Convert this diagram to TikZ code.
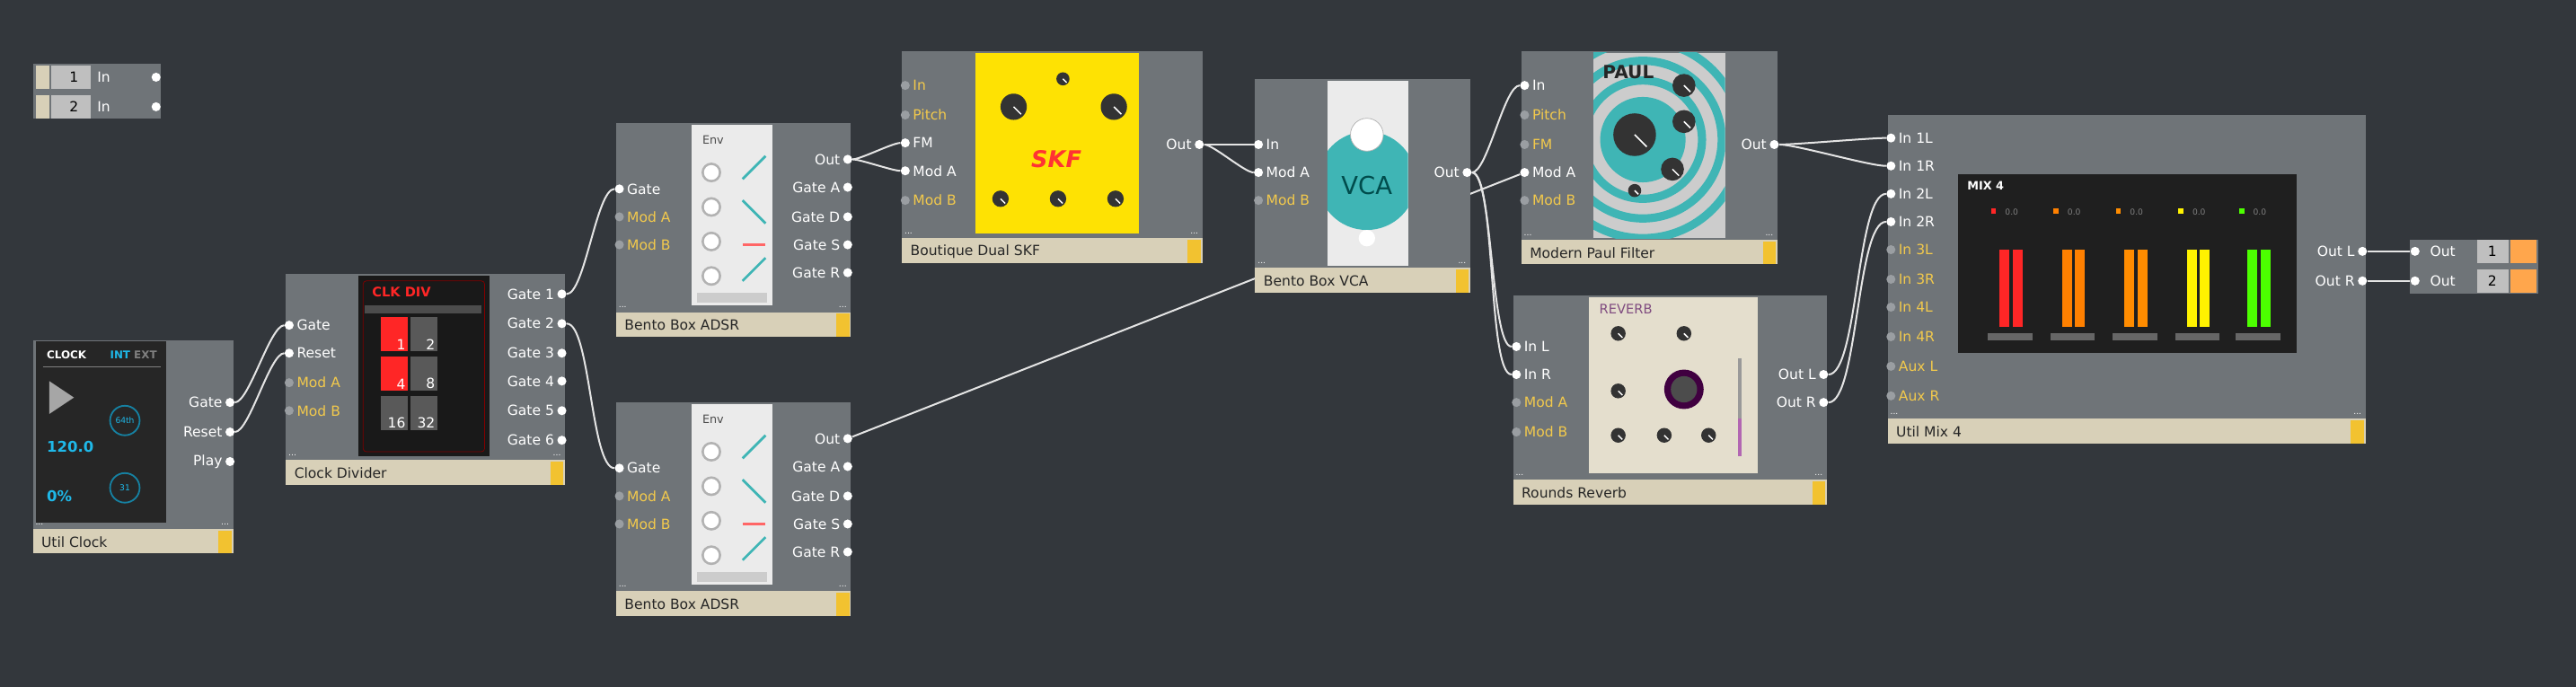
\documentclass[tikz,border=0pt]{standalone}
\usepackage{fontspec}
\setmainfont{DejaVu Sans}
\usetikzlibrary{positioning}
\pgfdeclarelayer{back}
\pgfdeclarelayer{wires}
\pgfsetlayers{back,wires,main}

\definecolor{bgc}{HTML}{33373C}
\definecolor{panelc}{HTML}{6F7478}
\definecolor{titlec}{HTML}{D8D0B8}
\definecolor{tabc}{HTML}{F2C230}
\definecolor{modc}{HTML}{F2C94C}
\definecolor{wirec}{HTML}{E4E4E4}
\definecolor{offdot}{HTML}{9A9EA2}
\definecolor{tealc}{HTML}{3FB5B5}
\definecolor{cyanc}{HTML}{1FB8E8}

\tikzset{
  lbl/.style={font=\fontsize{8.5}{10}\selectfont, inner sep=1pt},
  pdot/.style={circle, inner sep=0pt, minimum size=5.5pt, draw=none},
  wire/.style={draw=wirec, line width=1.1pt},
  titletext/.style={font=\fontsize{8.5}{10}\selectfont, text=black!85, inner sep=0pt}
}

% panel, title bar and yellow tab
\newcommand\modbox[6]{%
  \fill[panelc] (#1,#2) rectangle (#3,#4);
  \fill[titlec] (#1,#4) rectangle (#3,{#4+15});
  \fill[tabc] ({#3-9},{#4+1}) rectangle ({#3-1},{#4+15});
  \node[titletext,anchor=west] (#6) at ({#1+5},{#4+8}) {#5};
  \node[font=\tiny,text=white,inner sep=0pt] at ({#1+4},{#4-3}) {...};
  \node[font=\tiny,text=white,inner sep=0pt] at ({#3-5},{#4-3}) {...};
}
% connected input
\newcommand\inport[4]{%
  \node[pdot,fill=white] (#1) at (#2,#3) {};
  \node[lbl,anchor=west,text=white] at ({#2+3.5},#3) {#4};
}
% free input
\newcommand\freeport[4]{%
  \node[pdot,fill=offdot] (#1) at (#2,#3) {};
  \node[lbl,anchor=west,text=modc] at ({#2+3.5},#3) {#4};
}
% output
\newcommand\outport[4]{%
  \node[pdot,fill=white] (#1) at (#2,#3) {};
  \node[lbl,anchor=east,text=white] at ({#2-3.5},#3) {#4};
}
\newcommand\knob[3]{\fill[black!80] (#1,#2) circle (#3); \draw[white,line width=0.8pt] (#1,#2) -- ++(45:{#3*0.8});}

\begin{document}
\begin{tikzpicture}[x=1pt,y=-1pt]
\useasboundingbox (0,0) rectangle (1568,418);
\begin{pgfonlayer}{back}
\fill[bgc] (0,0) rectangle (1568,418);
\end{pgfonlayer}

% instrument inputs
\fill[panelc] (20,39) rectangle (98,72);
\foreach \n/\y in {1/47,2/65}{
  \fill[titlec] (22,{\y-7}) rectangle (30,{\y+7});
  \fill[black!25] (31,{\y-7}) rectangle (55,{\y+7});
  \node[lbl,text=black] at (45,\y) {\n};
  \node[lbl,anchor=west,text=white] at (58,\y) {In};
}
\node[pdot,fill=white] (in1) at (95,47) {};
\node[pdot,fill=white] (in2) at (95,65) {};

% Util Clock
\modbox{20}{207}{142}{322}{Util Clock}{clk}
\fill[black!85] (22,208) rectangle (101,318);
\node[font=\fontsize{6.5}{7}\selectfont\bfseries,text=white,anchor=west] at (25,216) {CLOCK};
\node[font=\fontsize{6.5}{7}\selectfont\bfseries,anchor=east] at (99,216) {\textcolor{cyanc}{INT} \textcolor{gray}{EXT}};
\draw[gray] (26,223) -- (98,223);
\fill[gray!70] (30,232) -- (45,242) -- (30,252) -- cycle;
\node[font=\fontsize{9}{10}\selectfont\bfseries,text=cyanc,anchor=west] at (25,272) {120.0};
\node[font=\fontsize{9}{10}\selectfont\bfseries,text=cyanc,anchor=west] at (25,302) {0\%};
\draw[cyanc!70!black,line width=1pt] (76,256) circle (9);
\node[font=\fontsize{5}{6}\selectfont,text=cyanc] at (76,256) {64th};
\draw[cyanc!70!black,line width=1pt] (76,297) circle (9);
\node[font=\fontsize{5}{6}\selectfont,text=cyanc] at (76,297) {31};
\outport{clk-gate}{140}{245}{Gate}
\outport{clk-reset}{140}{263}{Reset}
\outport{clk-play}{140}{281}{Play}

% Clock Divider
\modbox{174}{167}{344}{280}{Clock Divider}{div}
\fill[black!90] (218,168) rectangle (298,278);
\draw[red!50!black,rounded corners=2pt] (221,171) rectangle (295,275);
\node[font=\fontsize{8}{9}\selectfont\bfseries,text=red!85,anchor=west] at (223,178) {CLK DIV};
\fill[black!70] (222,186) rectangle (293,191);
\foreach \t/\x/\y/\c in {1/232/193/red!85,2/250/193/black!65,4/232/217/red!85,8/250/217/black!65,16/232/241/black!65,32/250/241/black!65}{
  \fill[\c] (\x,\y) rectangle ({\x+16},{\y+21});
  \node[lbl,text=white!85,anchor=south east] at ({\x+16},{\y+21}) {\t};
}
\inport{div-gate}{176}{198}{Gate}
\inport{div-reset}{176}{215}{Reset}
\freeport{div-moda}{176}{233}{Mod A}
\freeport{div-modb}{176}{250}{Mod B}
\foreach \i/\y in {1/179,2/197,3/215,4/232,5/250,6/268}{\outport{div-g\i}{342}{\y}{Gate \i}}

% two envelopes
\foreach \e/\t in {1/75,2/245}{
  \begin{scope}[yshift={-\t}]
  \modbox{375}{0}{518}{115}{Bento Box ADSR}{adsr\e}
  \fill[black!8] (421,1) rectangle (470,111);
  \node[font=\fontsize{7}{8}\selectfont,text=black!70,anchor=west] at (424,10) {Env};
  \foreach \k in {0,1,2,3}{
    \fill[black!30] (433,{30+\k*21}) circle (6);
    \fill[white] (433,{30+\k*21}) circle (4.5);
  }
  \draw[tealc,line width=1.5pt] (452,34) -- (466,20);
  \draw[tealc,line width=1.5pt] (452,47) -- (466,61);
  \draw[red!60,line width=1.5pt] (452,74) -- (466,74);
  \draw[tealc,line width=1.5pt] (452,96) -- (466,82);
  \fill[black!20] (424,103) rectangle (467,109);
  \inport{adsr\e-gate}{377}{40}{Gate}
  \freeport{adsr\e-moda}{377}{57}{Mod A}
  \freeport{adsr\e-modb}{377}{74}{Mod B}
  \outport{adsr\e-out}{516}{22}{Out}
  \outport{adsr\e-ga}{516}{39}{Gate A}
  \outport{adsr\e-gd}{516}{57}{Gate D}
  \outport{adsr\e-gs}{516}{74}{Gate S}
  \outport{adsr\e-gr}{516}{91}{Gate R}
  \end{scope}
}

% Boutique Dual SKF
\modbox{549}{31}{732}{145}{Boutique Dual SKF}{skf}
\fill[yellow!85!orange] (594,32) rectangle (693,142);
\knob{617}{65}{8} \knob{678}{65}{8} \knob{647}{48}{4}
\node[font=\fontsize{14}{16}\selectfont\bfseries\itshape,text=red!80] at (643,97) {SKF};
\knob{609}{121}{5} \knob{644}{121}{5} \knob{679}{121}{5}
\freeport{skf-in}{551}{52}{In}
\freeport{skf-pitch}{551}{70}{Pitch}
\inport{skf-fm}{551}{87}{FM}
\inport{skf-moda}{551}{104}{Mod A}
\freeport{skf-modb}{551}{122}{Mod B}
\outport{skf-out}{730}{88}{Out}

% Bento Box VCA
\modbox{764}{48}{895}{163}{Bento Box VCA}{vca}
\fill[black!8] (808,49) rectangle (857,162);
\begin{scope}
\clip (808,49) rectangle (857,162);
\fill[tealc] (832,110) circle (30);
\end{scope}
\fill[white] (832,82) circle (10); \draw[black!30] (832,82) circle (10);
\node[font=\fontsize{15}{16}\selectfont,text=teal!60!black] at (832,113) {VCA};
\fill[white] (832,145) circle (5);
\inport{vca-in}{766}{88}{In}
\inport{vca-moda}{766}{105}{Mod A}
\freeport{vca-modb}{766}{122}{Mod B}
\outport{vca-out}{893}{105}{Out}

% Modern Paul Filter
\modbox{926}{31}{1082}{146}{Modern Paul Filter}{paul}
\fill[black!20] (970,32) rectangle (1050,145);
\begin{scope}
\clip (970,32) rectangle (1050,145);
\foreach \r in {60,48,36}{\draw[tealc,line width=5pt] (1000,85) circle (\r);}
\fill[tealc] (1000,85) circle (26);
\end{scope}
\node[font=\fontsize{11}{12}\selectfont\bfseries,text=black!85,anchor=west] at (972,44) {PAUL};
\knob{995}{82}{13} \knob{1025}{52}{7} \knob{1025}{74}{7} \knob{1018}{103}{7} \knob{995}{116}{4}
\inport{paul-in}{928}{52}{In}
\freeport{paul-pitch}{928}{70}{Pitch}
\freeport{paul-fm}{928}{88}{FM}
\inport{paul-moda}{928}{105}{Mod A}
\freeport{paul-modb}{928}{122}{Mod B}
\outport{paul-out}{1080}{88}{Out}

% Rounds Reverb
\modbox{921}{180}{1112}{292}{Rounds Reverb}{rev}
\fill[titlec!70] (967,181) rectangle (1070,288);
\node[font=\fontsize{8}{9}\selectfont,text=violet!40!gray,anchor=west] at (970,188) {REVERB};
\foreach \x/\y in {985/203,1025/203,985/238,985/265,1013/265,1040/265}{\knob{\x}{\y}{4.5}}
\fill[violet!50!black] (1025,237) circle (12); \fill[black!70] (1025,237) circle (8);
\draw[black!40,line width=2pt] (1059,218) -- (1059,278);
\draw[violet!60,line width=2pt] (1059,255) -- (1059,278);
\inport{rev-inl}{923}{211}{In L}
\inport{rev-inr}{923}{228}{In R}
\freeport{rev-moda}{923}{245}{Mod A}
\freeport{rev-modb}{923}{263}{Mod B}
\outport{rev-outl}{1110}{228}{Out L}
\outport{rev-outr}{1110}{245}{Out R}

% Util Mix 4
\modbox{1149}{70}{1440}{255}{Util Mix 4}{mix}
\fill[black!88] (1192,106) rectangle (1398,215);
\node[font=\fontsize{7}{8}\selectfont\bfseries,text=white,anchor=west] at (1194,113) {MIX 4};
\foreach \x/\c in {1212/red!85,1250/orange,1288/orange!90!yellow,1326/yellow,1363/green!70!yellow}{
  \fill[\c] (\x,127) rectangle ({\x+3},130);
  \node[font=\fontsize{5}{6}\selectfont,text=gray,anchor=west] at ({\x+5},129) {0.0};
  \fill[\c] ({\x+5},152) rectangle ({\x+11},199);
  \fill[\c] ({\x+13},152) rectangle ({\x+19},199);
  \fill[black!60] ({\x-2},203) rectangle ({\x+25},207);
}
\inport{mix-1l}{1151}{84}{In 1L}
\inport{mix-1r}{1151}{101}{In 1R}
\inport{mix-2l}{1151}{118}{In 2L}
\inport{mix-2r}{1151}{135}{In 2R}
\freeport{mix-3l}{1151}{152}{In 3L}
\freeport{mix-3r}{1151}{170}{In 3R}
\freeport{mix-4l}{1151}{187}{In 4L}
\freeport{mix-4r}{1151}{205}{In 4R}
\freeport{mix-auxl}{1151}{223}{Aux L}
\freeport{mix-auxr}{1151}{241}{Aux R}
\outport{mix-outl}{1438}{153}{Out L}
\outport{mix-outr}{1438}{171}{Out R}

% instrument outputs
\fill[panelc] (1467,146) rectangle (1545,179);
\foreach \n/\y in {1/153,2/171}{
  \node[lbl,anchor=west,text=white] at (1478,\y) {Out};
  \fill[black!25] (1508,{\y-7}) rectangle (1527,{\y+7});
  \node[lbl,text=black] at (1517,\y) {\n};
  \fill[orange!70] (1528,{\y-7}) rectangle (1544,{\y+7});
}
\node[pdot,fill=white] (out1) at (1470,153) {};
\node[pdot,fill=white] (out2) at (1470,171) {};

% wires
\begin{pgfonlayer}{wires}
\tikzset{every path/.style={wire}}
\draw (clk-gate) to[out=0,in=180,looseness=.4] (div-gate);
\draw (clk-reset) to[out=0,in=180,looseness=.4] (div-reset);
\draw (div-g1) to[out=0,in=180,looseness=.4] (adsr1-gate);
\draw (div-g2) to[out=0,in=180,looseness=.4] (adsr2-gate);
\draw (adsr1-out) to[out=0,in=180,looseness=.4] (skf-fm);
\draw (adsr1-out) to[out=0,in=180,looseness=.4] (skf-moda);
\draw (adsr2-out) -- (paul-moda);
\draw (skf-out) to[out=0,in=180,looseness=.4] (vca-in);
\draw (skf-out) to[out=0,in=180,looseness=.4] (vca-moda);
\draw (vca-out) to[out=0,in=180,looseness=.4] (paul-in);
\draw (vca-out) to[out=0,in=180,looseness=.3] (rev-inl);
\draw (vca-out) to[out=0,in=180,looseness=.3] (rev-inr);
\draw (paul-out) to[out=0,in=180,looseness=.4] (mix-1l);
\draw (paul-out) to[out=0,in=180,looseness=.4] (mix-1r);
\draw (rev-outl) to[out=0,in=180,looseness=.4] (mix-2l);
\draw (rev-outr) to[out=0,in=180,looseness=.4] (mix-2r);
\draw (mix-outl) -- (out1);
\draw (mix-outr) -- (out2);
\end{pgfonlayer}
\end{tikzpicture}
\end{document}
